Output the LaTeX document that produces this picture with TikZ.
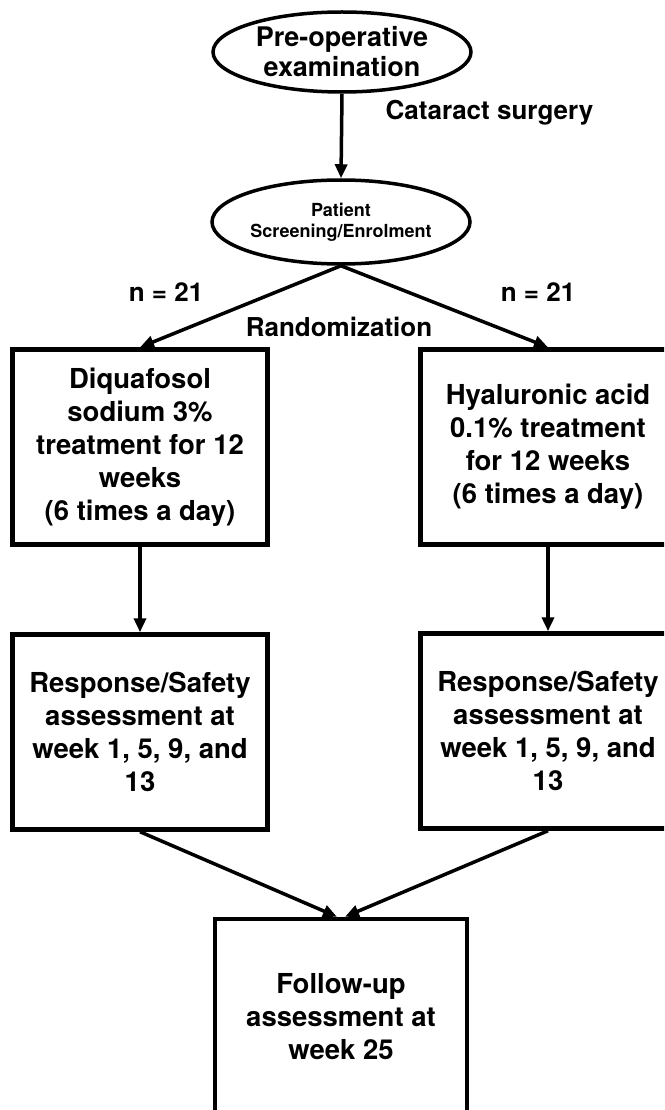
\documentclass[tikz,border=0pt]{standalone}
\usepackage{fontspec}
\setmainfont{TeX Gyre Heros}
\usetikzlibrary{shapes.geometric, arrows.meta, positioning}

\begin{document}
\begin{tikzpicture}[x=1pt, y=-1pt,
    elipse/.style={draw, ellipse, line width=3.5pt, inner sep=0pt, align=center,
      font=\bfseries\fontsize{27}{30}\selectfont},
    caja/.style={draw, rectangle, line width=4.5pt, inner sep=0pt, minimum width=255pt,
      minimum height=195pt, align=center, font=\bfseries\fontsize{27.5}{33}\selectfont},
    flecha/.style={-{Triangle[length=14pt,width=12pt]}, line width=3.5pt},
    etiqueta/.style={font=\bfseries\fontsize{26}{30}\selectfont}]
            % Marco
            \useasboundingbox (0,0) rectangle (664,1110);
            \fill[white] (0,0) rectangle (664,1110);
            \clip (0,0) rectangle (664,1110);

            % Elipses
            \node[elipse, minimum width=258pt, minimum height=80pt] (pre) at (342,52) {Pre-operative\\examination};
            \node[elipse, minimum width=258pt, minimum height=84pt,
              font=\bfseries\fontsize{18}{21}\selectfont] (pat) at (341,222) {Patient\\Screening/Enrolment};

            % Tratamientos
            \node[caja] (diq) at (140,447) {Diquafosol\\sodium 3\%\\treatment for 12\\weeks\\(6 times a day)};
            \node[caja] (hya) at (548,447) {Hyaluronic acid\\0.1\% treatment\\for 12 weeks\\(6 times a day)};

            % Evaluaciones
            \node[caja] (resl) at (140,732) {Response/Safety\\assessment at\\week 1, 5, 9, and\\13};
            \node[caja] (resr) at (548,731) {Response/Safety\\assessment at\\week 1, 5, 9, and\\13};

            % Seguimiento
            \node[caja, minimum width=252pt, minimum height=196pt] (fu) at (341,1017) {Follow-up\\assessment at\\week 25};

            % Flechas
            \draw[flecha] (pre.south) -- (pat.north);
            \draw[flecha] (pat.south) -- (diq.north);
            \draw[flecha] (pat.south) -- (hya.north);
            \draw[flecha] (diq.south) -- (resl.north);
            \draw[flecha] (hya.south) -- (resr.north);
            \draw[flecha] (resl.south) -- ([xshift=-4pt]fu.north);
            \draw[flecha] (resr.south) -- ([xshift=4pt]fu.north);

            % Etiquetas
            \node[etiqueta, anchor=west] (cat) at (382,113) {Cataract surgery};
            \node[etiqueta] (nl) at (166,292) {n = 21};
            \node[etiqueta] (nr) at (538,292) {n = 21};
            \node[etiqueta] (ran) at (339,327) {Randomization};
\end{tikzpicture}
\end{document}
